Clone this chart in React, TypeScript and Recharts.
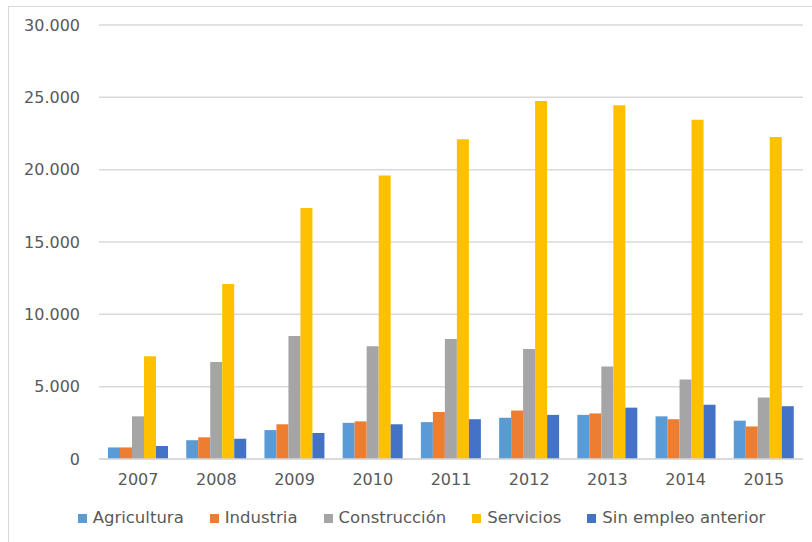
import React from "react";
import {
  BarChart,
  Bar,
  XAxis,
  YAxis,
  CartesianGrid,
  Legend,
} from "recharts";

const years = ["2007", "2008", "2009", "2010", "2011", "2012", "2013", "2014", "2015"];

const agricultura = [800, 1300, 2000, 2500, 2550, 2850, 3050, 2950, 2650];
const industria = [800, 1500, 2400, 2600, 3250, 3350, 3150, 2750, 2250];
const construccion = [2950, 6700, 8500, 7800, 8300, 7600, 6400, 5500, 4250];
const servicios = [7100, 12100, 17350, 19600, 22100, 24750, 24450, 23450, 22250];
const sinEmpleo = [900, 1400, 1800, 2400, 2750, 3050, 3550, 3750, 3650];

const yTicks = [0, 5000, 10000, 15000, 20000, 25000, 30000];

const series = [
  { key: "agricultura", name: "Agricultura", color: "#5B9BD5" },
  { key: "industria", name: "Industria", color: "#ED7D31" },
  { key: "construccion", name: "Construcción", color: "#A5A5A5" },
  { key: "servicios", name: "Servicios", color: "#FFC000" },
  { key: "sinEmpleo", name: "Sin empleo anterior", color: "#4472C4" },
];

const data = years.map((year, i) => ({
  year,
  agricultura: agricultura[i],
  industria: industria[i],
  construccion: construccion[i],
  servicios: servicios[i],
  sinEmpleo: sinEmpleo[i],
}));

const FONT = "'DejaVu Sans', sans-serif";
const TEXT = "#595959";
const GRID = "#D9D9D9";

function formatTick(v: number): string {
  if (v === 0) return "0";
  const thousands = Math.floor(v / 1000);
  return `${thousands}.${String(v % 1000).padStart(3, "0")}`;
}

function LegendContent() {
  return (
    <div
      style={{
        display: "flex",
        justifyContent: "center",
        gap: 26,
        paddingLeft: 22,
        fontFamily: FONT,
        fontSize: 16.5,
        color: TEXT,
        lineHeight: "20px",
      }}
    >
      {series.map((s) => (
        <div key={s.key} style={{ display: "flex", alignItems: "center" }}>
          <span
            style={{
              display: "inline-block",
              width: 9,
              height: 9,
              background: s.color,
              marginRight: 6,
            }}
          />
          <span>{s.name}</span>
        </div>
      ))}
    </div>
  );
}

export default function App() {
  return (
    <div
      style={{
        position: "absolute",
        left: 8,
        top: 6,
        width: 804,
        height: 536,
        borderTop: `1px solid ${GRID}`,
        borderLeft: `1px solid ${GRID}`,
        background: "#fff",
      }}
    >
      <BarChart
        width={803}
        height={535}
        data={data}
        margin={{ top: 18, right: 9, left: 0, bottom: 33 }}
        barCategoryGap="11.5%"
        barGap={0}
      >
        <CartesianGrid vertical={false} stroke={GRID} strokeWidth={1.5} />
        <XAxis
          dataKey="year"
          tickLine={false}
          axisLine={{ stroke: GRID, strokeWidth: 1.5 }}
          tickSize={0}
          tickMargin={15}
          tick={{ fill: TEXT, fontSize: 16, fontFamily: FONT }}
          height={30}
        />
        <YAxis
          domain={[0, 30000]}
          ticks={yTicks}
          tickFormatter={formatTick}
          axisLine={false}
          tickLine={false}
          tickSize={0}
          tickMargin={19}
          width={90}
          tick={{ fill: TEXT, fontSize: 16, fontFamily: FONT }}
        />
        <Legend
          content={<LegendContent />}
          wrapperStyle={{ top: 501, left: 0, width: 803, bottom: "auto" }}
        />
        {series.map((s) => (
          <Bar
            key={s.key}
            dataKey={s.key}
            name={s.name}
            fill={s.color}
            isAnimationActive={false}
          />
        ))}
      </BarChart>
    </div>
  );
}
